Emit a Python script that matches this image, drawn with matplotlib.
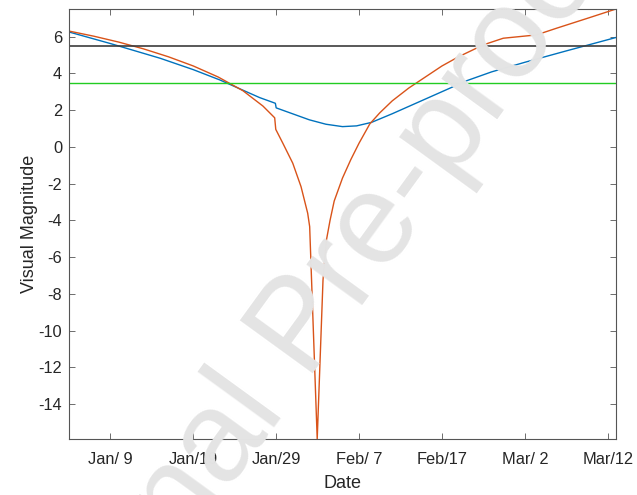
import matplotlib
matplotlib.use("Agg")
import matplotlib.pyplot as plt
import numpy as np

plt.rcParams['font.family'] = ['Liberation Sans', 'DejaVu Sans']
plt.rcParams['axes.unicode_minus'] = False

# days counted from the "Jan/ 9" tick
days_a = [-5, 0, 6, 10, 13.2, 16, 18, 19.9, 20.0, 21.6, 24, 26, 28, 29.7, 31.5,
          34, 37.3, 40, 43, 46, 50, 55, 61]
mag_a = [6.25, 5.62, 4.82, 4.2, 3.64, 3.08, 2.68, 2.37, 2.12, 1.86, 1.47, 1.23,
         1.10, 1.14, 1.33, 1.80, 2.46, 3.0, 3.6, 4.08, 4.6, 5.22, 5.95]

days_b = [-5, -2, 1, 4, 7, 10, 13, 16, 18.4, 19.82, 19.95, 20.8, 22, 23, 23.8,
          24.04, 24.95, 25.65, 26.06, 26.5, 27, 28, 29, 30, 31.3, 32.5, 34, 36,
          37.3, 40, 42, 45, 47.4, 51.4, 53.8, 57.8, 61]
mag_b = [6.3, 6.02, 5.7, 5.33, 4.9, 4.4, 3.8, 3.05, 2.22, 1.58, 0.95, 0.2, -0.89,
         -2.17, -3.61, -4.34, -15.9, -7.25, -5.08, -4.0, -2.95, -1.7, -0.7, 0.2,
         1.25, 1.85, 2.5, 3.2, 3.59, 4.4, 4.9, 5.55, 5.91, 6.09, 6.45, 7.03, 7.5]

limit_dark = 5.5
limit_green = 3.5

tick_days = [0, 10, 20, 30, 40, 50, 60]
tick_labels = ['Jan/ 9', 'Jan/19', 'Jan/29', 'Feb/ 7', 'Feb/17', 'Mar/ 2', 'Mar/12']
ytick_vals = np.arange(-14, 7, 2)

fig = plt.figure(figsize=(6.37, 4.95), dpi=100)
ax = fig.add_axes([0.1083, 0.1131, 0.8587, 0.8687])

ax.plot(days_a, mag_a, color='#0072BD', lw=1.0)
ax.plot(days_b, mag_b, color='#D95319', lw=1.0)
ax.axhline(limit_dark, color='#3c3c3c', lw=1.2)
ax.axhline(limit_green, color='#22cc22', lw=1.0)

ax.set_xlim(-5, 61)
ax.set_ylim(min(mag_b), max(mag_b))
ax.set_xticks(tick_days)
ax.set_xticklabels(tick_labels)
ax.set_yticks(ytick_vals)

ax.tick_params(direction='in', length=4, width=0.6, colors='#555555',
               labelcolor='#262626', labelsize=11.8, top=True, right=True)
ax.tick_params(axis='x', pad=9)
ax.tick_params(axis='y', pad=5)
for s in ax.spines.values():
    s.set_color('#555555')
    s.set_linewidth(0.8)

ax.set_xlabel('Date', fontsize=13, color='#262626', labelpad=6)
ax.set_ylabel('Visual Magnitude', fontsize=13, color='#262626', labelpad=0)

# watermark across the plot
fig.text(0.4757, 0.3333, 'Journal Pre-proof', fontsize=93, color='#e4e4e4',
         rotation=54, ha='center', va='center', zorder=10)

fig.savefig('out.png', dpi=100)
